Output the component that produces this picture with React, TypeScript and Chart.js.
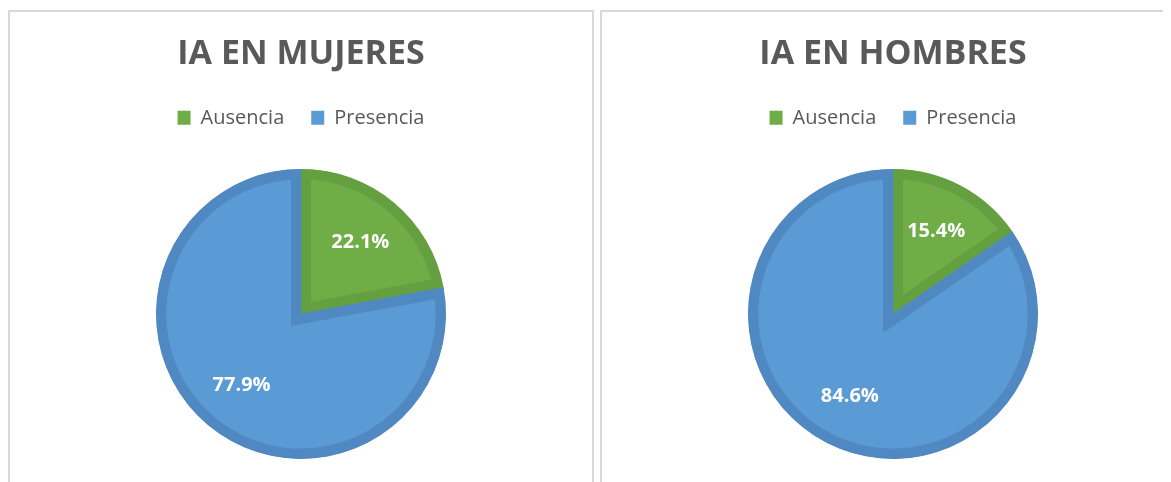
import React, { useEffect, useRef } from "react";
import { Chart, registerables } from "chart.js";

Chart.register(...registerables);

const categories = ["Ausencia", "Presencia"];
const womenValues = [22.1, 77.9];
const menValues = [15.4, 84.6];
const titles = ["IA EN MUJERES", "IA EN HOMBRES"];

const fillColors = ["#70AD47", "#5B9BD5"];
const borderColors = ["#64A03F", "#5089C1"];
const textColor = "#595959";
const FONT = "'Open Sans', 'Noto Sans', sans-serif";

const labelPlugin = {
  id: "pctLabels",
  afterDatasetsDraw(chart: any) {
    const ctx = chart.ctx;
    const meta = chart.getDatasetMeta(0);
    const data = chart.data.datasets[0].data as number[];
    ctx.save();
    ctx.fillStyle = "#FFFFFF";
    ctx.font = `bold 20px ${FONT}`;
    ctx.textAlign = "center";
    ctx.textBaseline = "middle";
    meta.data.forEach((arc: any, i: number) => {
      const { x, y, startAngle, endAngle, outerRadius } = arc.getProps(
        ["x", "y", "startAngle", "endAngle", "outerRadius"],
        true
      );
      const mid = (startAngle + endAngle) / 2;
      const r = outerRadius * 0.64;
      ctx.fillText(
        data[i].toFixed(1) + "%",
        x + Math.cos(mid) * r,
        y + Math.sin(mid) * r
      );
    });
    ctx.restore();
  },
};

function PieChart({ title, values }: { title: string; values: number[] }) {
  const ref = useRef<HTMLCanvasElement>(null);
  useEffect(() => {
    if (!ref.current) return;
    const chart = new Chart(ref.current, {
      type: "pie",
      data: {
        labels: categories,
        datasets: [
          {
            data: values,
            backgroundColor: fillColors,
            borderColor: borderColors,
            borderWidth: 10,
            borderAlign: "inner",
            borderJoinStyle: "miter",
            hoverOffset: 0,
          } as any,
        ],
      },
      options: {
        responsive: false,
        animation: false,
        radius: 145,
        layout: { padding: { top: 0, bottom: 12, left: 0, right: 0 } },
        plugins: {
          title: {
            display: true,
            text: title,
            color: textColor,
            font: { family: FONT, size: 34, weight: "bold", lineHeight: 1.2 },
            padding: { top: 22, bottom: 6 },
          },
          legend: {
            display: true,
            position: "top",
            labels: {
              color: textColor,
              font: { family: FONT, size: 20 },
              boxWidth: 13,
              boxHeight: 14,
              padding: 27,
              generateLabels: (c: any) =>
                c.data.labels.map((l: string, i: number) => ({
                  text: l,
                  fillStyle: fillColors[i],
                  strokeStyle: fillColors[i],
                  lineWidth: 0,
                  fontColor: textColor,
                  hidden: false,
                  index: i,
                })),
            },
          },
          tooltip: { enabled: false },
        },
      } as any,
      plugins: [labelPlugin],
    });
    return () => chart.destroy();
  }, [title, values]);
  return <canvas ref={ref} width={582} height={490} style={{ display: "block", width: 582, height: 490 }} />;
}

export default function App() {
  const panel = (left: number): React.CSSProperties => ({
    position: "absolute",
    left,
    top: 2,
    width: 586,
    height: 494,
    border: "2px solid #D9D9D9",
    boxSizing: "border-box",
    background: "#FFFFFF",
  });
  return (
    <div style={{ position: "relative", width: 1155, height: 474, overflow: "hidden", background: "#FFFFFF" }}>
      <div style={panel(0)}>
        <PieChart title={titles[0]} values={womenValues} />
      </div>
      <div style={panel(592)}>
        <PieChart title={titles[1]} values={menValues} />
      </div>
    </div>
  );
}
